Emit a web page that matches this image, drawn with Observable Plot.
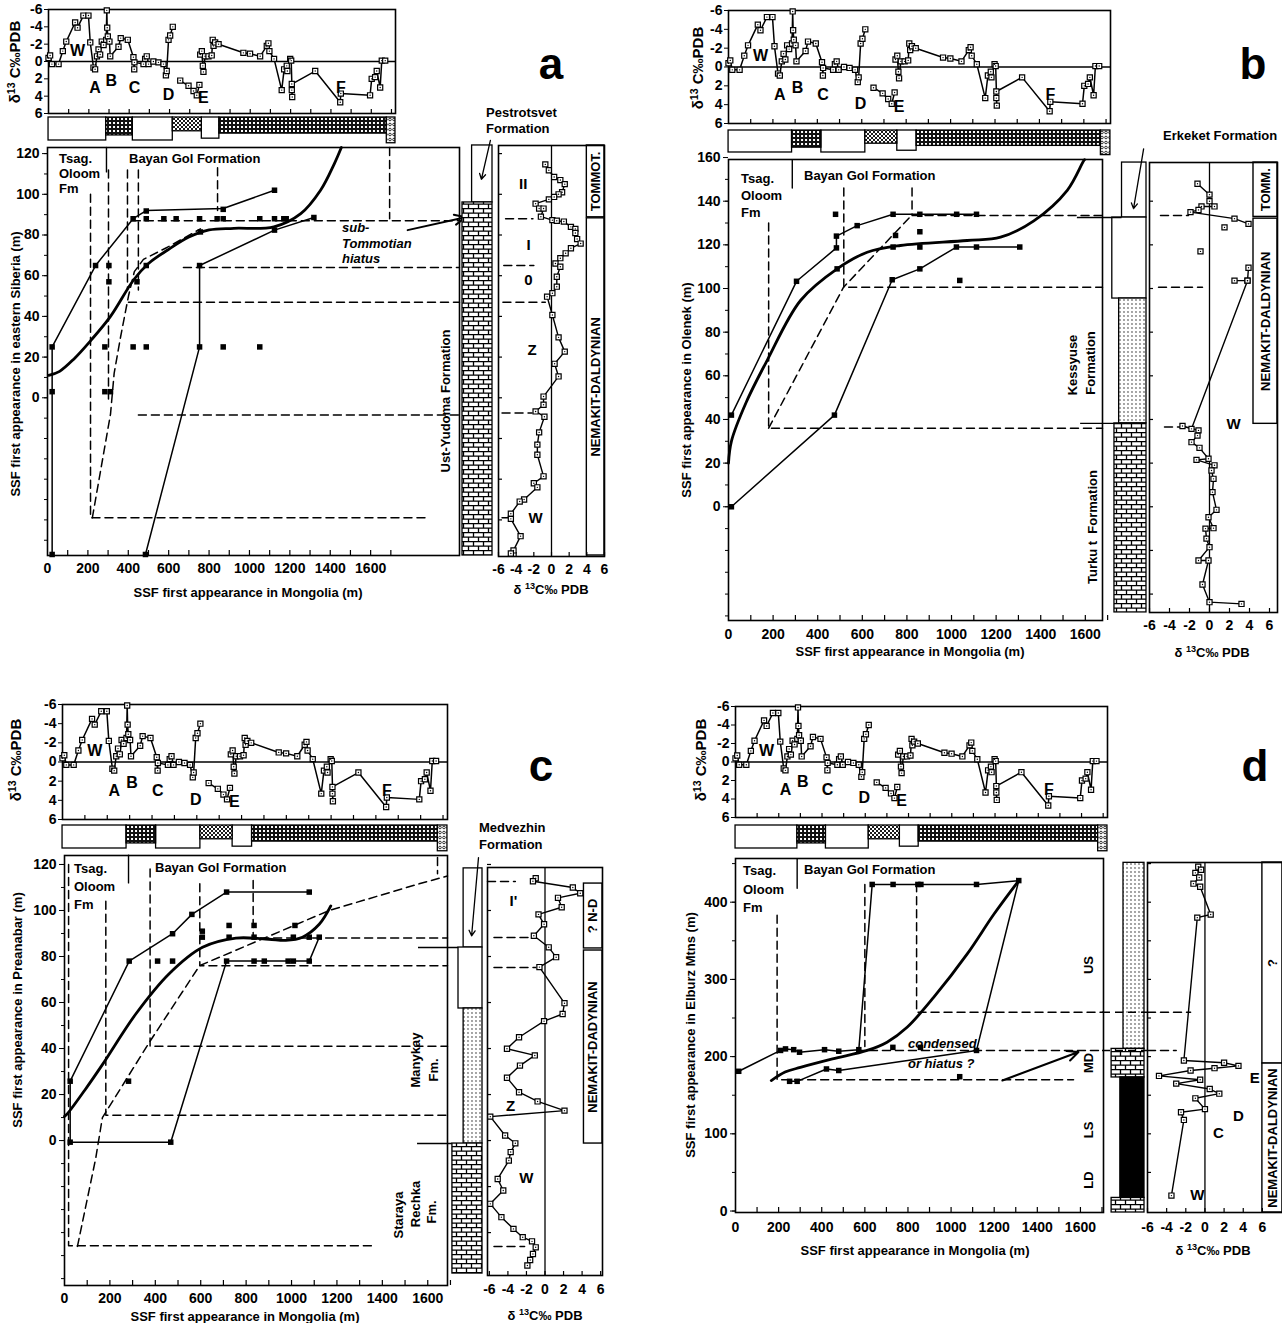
<!DOCTYPE html>
<html><head><meta charset="utf-8">
<script src="https://cdn.jsdelivr.net/npm/d3@7"></script>
<script src="https://cdn.jsdelivr.net/npm/@observablehq/plot@0.6"></script>
<style>
body{margin:0;background:#fff;}
#root{position:relative;width:1282px;height:1323px;overflow:hidden;background:#fff;font-family:'Liberation Sans',Arial,Helvetica,sans-serif;font-weight:bold;color:#000;}
.t{position:absolute;white-space:nowrap;line-height:1;}
.t sup{font-size:0.7em;vertical-align:0.45em;line-height:0;}
</style></head><body>
<svg width="0" height="0" style="position:absolute">
<defs>
<pattern id="grid" width="4" height="4" patternUnits="userSpaceOnUse"><rect width="4" height="4" fill="#111"/><rect x="1" y="1" width="2" height="2" fill="#fff"/></pattern>
<pattern id="hatch" width="4" height="4" patternUnits="userSpaceOnUse"><rect width="4" height="4" fill="#fff"/><path d="M0,0L4,4M4,0L0,4" stroke="#000" stroke-width="0.9"/></pattern>
<pattern id="congl" width="4" height="5" patternUnits="userSpaceOnUse"><rect width="4" height="5" fill="#fff"/><circle cx="2" cy="2.5" r="1.3" fill="none" stroke="#000" stroke-width="0.8"/></pattern>
<pattern id="dots" width="4" height="4" patternUnits="userSpaceOnUse"><rect width="4" height="4" fill="#fff"/><circle cx="2" cy="2" r="0.65" fill="#000"/></pattern>
<pattern id="brick" width="10" height="9" patternUnits="userSpaceOnUse"><rect width="10" height="9" fill="#fff"/><path d="M0,0.6H10M0,5.1H10M1.5,0.6V5.1M6.5,5.1V9" stroke="#000" stroke-width="1.3"/></pattern>
</defs></svg>
<div id="root"></div>
<script>
// ---------------- shared data: Mongolia (Bayan Gol) delta13C strip ----------------
const mongSegW = [[0,-0.4],[8,-0.7],[17,0.3],[50,0.3],[71,-1.2],[88,-2.3],[132,-4.5],[144,-3.9],[173,-5.3],[198,-5.3],[207,-2.2],[223,0.7],[231,0.9],[240,-0.6],[248,-1.4],[256,-0.8],[264,-2.3],[273,-1.9],[286,-2.5],[289,-5.9],[291,-3.9],[294,-2.9],[302,-2.3],[306,-0.6],[347,-1.7],[358,-2.7],[393,-2.5],[421,-0.5],[425,0.9],[426,0.1],[471,0.3],[479,-0.3],[487,-0.6],[496,0.3],[520,0.0],[545,0.1],[570,0.3],[582,1.6],[586,1.1],[595,-2.5],[603,-3.0],[616,-4.0]];
const mongSegE = [[653,2.2],[694,2.8],[719,3.4],[735,3.9],[748,2.7]];
const mongSegF = [[752,-0.8],[760,-1.2],[765,0.5],[768,1.2],[776,-0.6],[793,-0.6],[809,-0.7],[814,-2.5],[818,-1.8],[826,-2.2],[843,-2.0],[966,-1.0],[999,-0.9],[1049,-0.6],[1082,-1.8],[1090,-2.1],[1095,-1.2],[1118,-0.3],[1156,3.3],[1168,0.9],[1181,0.5],[1184,1.1],[1198,-0.3],[1203,-0.1],[1208,4.1],[1206,3.3],[1206,2.6],[1322,1.1],[1446,4.7],[1449,3.7],[1594,3.9],[1602,2.0],[1619,1.8],[1627,1.1],[1644,3.0],[1652,-0.1],[1669,-0.1]];
const mongLetterText = ["W","A","B","C","D","E","F"];
const mongLetterM = [144,231,311,426,595,768,1449];
const mongLetterD = [-1.2,3.0,2.2,3.0,3.9,4.2,3.0];
// lithology bar of the Mongolian section
const barFrom = [0,286,418,616,760,847,1677];
const barTo = [286,418,616,760,847,1677,1720];
const barDepth = [1.0,0.78,1.0,0.6,0.92,0.7,1.12];
const barRock = ["plain","grid","plain","hatch","plain","grid","congl"];

const deltaTicks = [-6,-4,-2,0,2,4,6];
const stripTicks = d3.range(100,1701,100);
const mainXLabels = d3.range(0,1601,200);
const mainXMinor = d3.range(100,1701,100);

// ---------------- panel a: eastern Siberia ----------------
const aUpper = [[23,-77],[23,25],[238,65],[424,88],[489,92],[870,93],[1124,102]];
const aLower = [[485,-77],[753,25],[753,65],[1124,82.4],[1319,88.6]];
const aCurve = [[6,11],[60,13],[130,19],[213,28],[312,40],[427,58],[500,66],[593,72.5],[700,79],[800,82.5],[923,83.3],[1121,84],[1254,90.5],[1352,102],[1420,115],[1455,123]];
const aSquares = [[424,88],[489,88],[576,88],[637,88],[753,88],[840,88],[870,88],[1051,88],[1124,88],[1170,88],[1182,88],[489,91.8],[870,92.6],[1124,102],[238,65],[304,65],[489,65],[753,65],[304,57],[443,57],[757,81.5],[1124,82.4],[1319,88.6],[23,25],[284,25],[424,25],[489,25],[753,25],[870,25],[1051,25],[23,3],[284,3],[312,3],[23,-77],[485,-77]];
const aDashed = [
  [[213,100],[213,-59],[1882,-59]],
  [[302,112],[302,-1]],
  [[222,-59],[312,-8],[330,12],[362,30],[401,50],[430,62],[475,68],[594,74],[757,83]],
  [[396,112],[396,53]],[[450,112],[450,53]],[[842,113],[842,92]],[[1694,123],[1694,88]],
  [[420,87],[2040,87]],[[673,64],[2040,64]],[[401,47],[2040,47]],[[450,-8.5],[2040,-8.5]]
];
const aSep = [[292,123],[292,111]];
const aDelta = [[-0.7,114.7],[-0.3,111.8],[0.3,108.5],[1.0,107],[1.5,105],[1.2,101],[0.8,100],[0.3,98.7],[-0.3,97.5],[-1.8,95.4],[-1.4,93],[-0.9,93],[-1.2,89],[0.1,87.3],[0.6,87],[1.4,86.6],[2.2,84],[2.7,83],[2.7,81],[2.9,78],[3.3,75.8],[2.2,73.5],[1.6,71],[1.0,68.6],[0.45,66],[1.0,64.4],[0.6,59.5],[0.6,54.6],[0.1,51.4],[-0.5,49.7],[0.1,40.7],[0.8,29.7],[1.5,22.7],[0.35,16.7],[0.8,10.5],[-0.9,0.6],[-0.9,-3.4],[-1.8,-6.7],[-0.8,-9.3],[-1.4,-17],[-1.6,-23],[-1.6,-28],[-0.9,-38.6],[-2.0,-42],[-1.6,-44],[-3.1,-50],[-3.6,-51],[-4.6,-57],[-4.6,-59.5],[-3.5,-68],[-4.3,-75],[-4.6,-76.5]];
const aDeltaDash = [[[-5.2,88],[-2.1,88]],[[-5.4,65],[-2,65]],[[-5.5,47],[-0.7,47]],[[-5.6,-7.5],[-2.2,-7.5]],[[-5.6,-59],[-4.8,-59]]];
const aZones = [["II",-3.2,105],["I",-2.6,75],["0",-2.6,58],["Z",-2.2,23.5],["W",-1.8,-59]];
const aStages = [[88.7,124,"TOMMOT."],[-77.5,88.2,"NEMAKIT-DALDYNIAN"]];
const aCol = [["plain",124,96,0.32],["brick",96,-77.5,0]];

// ---------------- panel b: Olenek ----------------
const bUpper = [[13,42],[305,103.3],[484,118.6],[484,124],[577,128.8],[738,134],[1112,134]];
const bLower = [[13,0],[475,42],[734,104],[858,109],[1022,119],[1112,119],[1306,119]];
const bCurve = [[0,20],[13,30],[80,48],[173,67],[323,94.5],[487,109],[622,116.6],[771,119.7],[1070,122],[1220,123.5],[1369,131],[1519,145],[1593,158.6],[1597,159]];
const bSquares = [[13,42],[13,0],[305,103.3],[484,118.6],[484,124],[577,128.8],[738,134],[858,134],[1023,134],[1112,134],[480,134],[475,42],[734,104],[858,109],[1022,119],[1112,119],[1306,119],[487,109],[738,119],[858,119],[749,124.3],[858,126],[1037,103.7]];
const bDashed = [
  [[180,130],[180,36],[1677,36]],
  [[180,36],[516,100.6],[816,133]],
  [[517,146],[517,100.6],[1677,100.6]],
  [[823,146],[823,134]],
  [[823,133.5],[1677,133.5]]
];
const bSep = [[286,159],[286,146]];
const bDeltaSegs = [
  [[-1.2,148],[0.0,143],[0.0,140],[0.5,137.6],[-0.8,137.6],[-1.1,136],[-1.9,135],[2.5,132],[3.9,129.6]],
  [[2.5,103.6],[3.8,103.6],[3.9,109.5]],
  [[3.8,103.6],[-1.8,35.7],[-2.7,37],[-1.1,35],[-1.2,32.6],[-1.8,29.6],[-1.0,27],[-0.1,22],[-1.3,21.5],[0.5,19],[0.2,16.6],[0.4,12.8],[0.3,6.7],[0.7,-1.4],[-0.1,-4.8],[0.4,-9.8],[-0.4,-10],[-0.3,-14.6],[0.0,-18.5],[-1.1,-24.6],[-0.1,-24.6],[-0.7,-35.6],[0.0,-43.7],[3.2,-44.5]]
];
const bDeltaLoose = [[1.5,128],[-0.9,117]];
const bDeltaDash = [[[-4.9,133.5],[-2.1,133.5]],[[-5.1,100.6],[-0.7,100.6]],[[-4.5,36.5],[-2.6,36.5]]];
const bZones = [["W",2.4,38]];
const bStages = [[132.8,157.7,"TOMM."],[38,132,"NEMAKIT-DALDYNIAN"]];
const bCol = [["plain",157.7,132.5,0.32],["plain",132.5,95.4,0.05],["dots",95.4,38.2,0.24],["brick",38.2,-48.4,0.11]];

// ---------------- panel c: Preanabar ----------------
const cUpper = [[25,25.8],[285,78],[476,89.9],[561,98.3],[714,108],[1078,108]];
const cLower = [[25,25.8],[25,-0.7],[468,-0.7],[714,78],[1078,78],[1122,88.4]];
const cCurve = [[0,10.5],[13,11.7],[90,22],[167,33],[314,55],[461,72.5],[608,84],[755,88],[900,87.5],[975,87],[1048,88.4],[1122,94],[1173,102]];
const cSquares = [[25,25.8],[25,-0.7],[468,-0.7],[285,78],[282,25.8],[410,78],[476,78],[476,89.9],[561,98.3],[714,108],[1078,108],[714,78],[835,78],[880,78],[985,78],[1008,78],[1078,78],[607,88.4],[607,91],[725,88.4],[835,88.4],[1008,88.4],[1078,88.4],[1122,88.4],[725,93.5],[835,93.5],[1015,93.5]];
const cDashed = [
  [[18,120],[18,-45.7],[1370,-45.7]],
  [[182,104],[182,11],[1687,11]],
  [[377,118],[377,41],[1687,41]],
  [[596,111.6],[596,76],[1687,76]],
  [[831,113],[831,88],[1687,88]],
  [[1643,123],[1643,116]],
  [[57,-46],[137,-8],[167,10],[379,43.5],[595,76],[1166,100],[1562,111.6],[1687,115]]
];
const cSep = [[282,124],[282,112]];
const cDelta = [[-1.0,114],[-1.3,112.7],[3.0,110],[3.8,107.5],[1.4,105.5],[1.8,101.4],[-0.7,98.3],[-0.1,94],[-1.2,89],[0.4,84],[1.2,79.7],[-0.6,75.4],[2.1,59.7],[1.9,55],[-0.1,51.9],[-2.8,44.9],[-4.1,39.9],[-1.1,37],[-2.7,32.6],[-4.1,27.3],[-2.8,21],[-0.8,17],[2.1,13],[-5.9,10.4],[-4.3,2.2],[-3.2,-1.2],[-3.7,-5],[-3.9,-8.7],[-5.1,-16.7],[-4.5,-21.7],[-5.9,-27.5],[-4.7,-33.3],[-3.4,-38.4],[-2.4,-42],[-1.4,-43.8],[-1.0,-46.4],[-1.3,-49.3],[-1.6,-51.9],[-1.9,-54.3]];
const cDeltaDash = [[[-6.2,112.6],[-3.2,112.6]],[[-5.5,88.3],[-1.5,88.3]],[[-5.5,75.2],[-1,75.2]],[[-5.5,-46],[-2.2,-46]]];
const cZones = [["I'",-3.4,104],["Z",-3.7,15],["W",-2,-16.5]];
const cStages = [[83.5,111.7,"? N-D"],[-1.3,82.6,"NEMAKIT-DADYNIAN"]];
const cCol = [["plain",118.3,83.9,0.41],["plain",83.9,57.4,0.25],["dots",57.4,-1.3,0.41],["brick",-1.3,-57.8,0.06]];

// ---------------- panel d: Elburz Mountains ----------------
const dUpper = [[15,181],[209,208],[232,210],[270,209],[297,205.7],[413,209],[479,207],[572,209],[634,423],[731,423],[846,423],[1118,423],[1314,428],[1118,208],[479,182],[422,184],[286,168],[251,168]];
const dCurve = [[166,169],[230,180],[301,186],[450,197],[611,208],[703,218.7],[796,238],[920,277],[1075,333],[1200,385],[1314,428]];
const dSquares = [[15,181],[209,208],[232,210],[270,209],[297,205.7],[413,209],[479,207],[572,209],[634,423],[731,423],[846,423],[860,423],[1118,423],[1314,428],[1118,208],[479,182],[422,184],[251,168],[286,168],[730,212],[858,212],[1040,174]];
const dDashed = [
  [[193,383],[193,170],[1568,170]],
  [[600,423],[600,213]],
  [[840,424],[840,257.5],[1707,257.5]],
  [[561,208],[1707,208]]
];
const dSep = [[286,456],[286,418]];
const dDelta = [[-0.7,446],[-0.4,442],[-1.0,438],[-0.6,432],[-1.2,424],[-0.5,420],[0.6,384],[-0.8,380],[-2.2,195],[2.0,192],[3.5,188],[1.0,185],[-1.5,182],[-4.8,175],[-0.5,170],[-3.0,165],[0.5,158],[1.5,152],[-1.0,146],[0.0,132],[-2.5,128],[-2.2,118],[-3.5,20]];
const dDeltaDash = [[[-6,257.5],[-1.5,257.5]],[[-6,208],[-3,208]]];
const dZones = [["E",5.2,172],["D",3.5,123],["C",1.4,101],["W",-0.8,20]];
const dStages = [[191,451.4,"?"],[-1.9,191,"NEMAKIT-DALDYNIAN"]];
const dCol = [["dots",451,210,0.4],["brick",210,173,0.06],["black",173,17,0.31],["brick",17,-1.9,0.06]];

// ---------------- drawing helpers ----------------
const FONT = "'Liberation Sans', Arial, Helvetica, sans-serif";
const root = document.getElementById("root");
const rockFill = {plain:"#fff", grid:"url(#grid)", hatch:"url(#hatch)", congl:"url(#congl)", dots:"url(#dots)", brick:"url(#brick)", black:"#000"};
const X = d => d[0], Y = d => d[1];

function plotAt(frame, spec) {
  const [x0,y0,x1,y1] = frame;
  const svg = Plot.plot({
    width: x1 - x0, height: y1 - y0,
    marginLeft: 0, marginRight: 0, marginTop: 0, marginBottom: 0,
    style: {background: "none", fontFamily: FONT, fontSize: "14px", fontWeight: "bold", color: "black", overflow: "visible"},
    ...spec,
    x: {...spec.x, axis: null},
    y: {...spec.y, axis: null}
  });
  svg.style.position = "absolute";
  svg.style.left = x0 + "px";
  svg.style.top = y0 + "px";
  svg.style.maxWidth = "none";
  root.appendChild(svg);
  return svg;
}
function T(html, x, y, o = {}) {
  const d = document.createElement("div");
  d.className = "t"; d.innerHTML = html;
  d.style.fontSize = (o.size || 13) + "px";
  if (o.italic) d.style.fontStyle = "italic";
  const ax = o.anchor === "start" ? "0" : o.anchor === "end" ? "-100%" : "-50%";
  d.style.left = x + "px"; d.style.top = y + "px";
  d.style.transform = `translate(${ax}, -50%)` + (o.rotate ? ` rotate(${o.rotate}deg)` : "");
  root.appendChild(d);
}
const openSq = (data) => [
  Plot.dot(data, {x: X, y: Y, symbol: "square", r: 2.9, fill: "white", stroke: "black", strokeWidth: 1.2}),
  Plot.dot(data, {x: X, y: Y, r: 0.7, fill: "black"})
];
const rocksMarks = (rows) => Object.keys(rockFill).map(k =>
  Plot.rect(rows.filter(r => r[0] === k), {x1: r => r[3], x2: 1, y1: r => r[2], y2: r => r[1], fill: rockFill[k], stroke: "black", strokeWidth: 1.3}));

function drawPanel(P) {
  const [mx0,my0,mx1,my1] = P.main;
  const v = py => P.yDom[1] + (py - my0) * (P.yDom[0] - P.yDom[1]) / (my1 - my0);
  // --- top strip: delta13C of Mongolian section
  const [sx0,sy0,sx1,sy1] = P.strip;
  plotAt(P.strip, {
    x: {domain: [0,1720]}, y: {domain: [6,-6]},
    marks: [
      Plot.frame({strokeWidth: 1.6}),
      Plot.ruleY([0], {strokeWidth: 1.7}),
      Plot.tickX(stripTicks, {x: d => d, insetTop: (sy1 - sy0) - 4, strokeWidth: 1.2}),
      Plot.axisY({ticks: deltaTicks, tickFormat: d => String(d), tickSize: 4, tickPadding: 2, label: null, fontSize: 14}),
      ...[mongSegW, mongSegE, mongSegF].map(s => Plot.line(s, {x: X, y: Y, strokeWidth: 1.5})),
      ...openSq([...mongSegW, ...mongSegE, ...mongSegF]),
      Plot.text(mongLetterText, {x: (d,i) => mongLetterM[i], y: (d,i) => mongLetterD[i], text: d => d, fontSize: 16, fontWeight: "bold"})
    ]
  });
  // --- lithology bar of Mongolian section
  const idx = barFrom.map((d,i) => i);
  plotAt([sx0, P.bar[0], sx1, P.bar[0] + 1.2 * P.bar[1]], {
    x: {domain: [0,1720]}, y: {domain: [1.2,0]},
    marks: Object.keys(rockFill).map(k => Plot.rect(idx.filter(i => barRock[i] === k),
      {x1: i => barFrom[i], x2: i => barTo[i], y1: 0, y2: i => barDepth[i], fill: rockFill[k], stroke: "black", strokeWidth: 1.3}))
  });
  // --- main correlation plot
  plotAt(P.main, {
    x: {domain: P.xDom}, y: {domain: P.yDom},
    marks: [
      Plot.frame({strokeWidth: 1.6}),
      Plot.axisX({ticks: mainXLabels, tickFormat: d => String(d), tickSize: 0, tickPadding: P.xPad, label: null, fontSize: 14}),
      Plot.tickX(mainXMinor, {x: d => d, insetTop: (my1 - my0) - 5, strokeWidth: 1.2}),
      Plot.axisY({ticks: P.yLab, tickFormat: d => String(d), tickSize: 5, tickPadding: 3, label: null, fontSize: 14}),
      Plot.axisY({ticks: P.yMinor, tickFormat: () => "", tickSize: 3, label: null}),
      ...P.dashed.map(l => Plot.line(l, {x: X, y: Y, strokeDasharray: "8,5", strokeWidth: 1.5})),
      Plot.line(P.sep, {x: X, y: Y, strokeWidth: 1.4}),
      ...P.solid.map(l => Plot.line(l, {x: X, y: Y, strokeWidth: 1.5})),
      Plot.line(P.curve, {x: X, y: Y, curve: "catmull-rom", strokeWidth: 2.8}),
      Plot.dot(P.squares, {x: X, y: Y, symbol: "square", r: 3.1, fill: "black"}),
      ...(P.mainExtra || [])
    ]
  });
  // --- lithology column of the local section
  const [cx0,cy0,cx1,cy1] = P.colFrame;
  plotAt(P.colFrame, {
    x: {domain: [0,1]}, y: {domain: [v(cy1), v(cy0)]},
    marks: [...rocksMarks(P.col), ...(P.colExtra || [])]
  });
  // --- local delta13C profile with stage boxes
  const [dx0,dy0,dx1,dy1] = P.dFrame;
  plotAt(P.dFrame, {
    x: {domain: P.dX}, y: {domain: [v(dy1), v(dy0)]},
    marks: [
      Plot.rect(P.stages, {x1: P.stageX, x2: P.dX[1], y1: s => s[0], y2: s => s[1], fill: "white", stroke: "black", strokeWidth: 1.4}),
      Plot.text(P.stages, {x: (P.stageX + P.dX[1]) / 2, y: s => (s[0] + s[1]) / 2, text: s => s[2], rotate: -90, fontSize: 13, fontWeight: "bold"}),
      Plot.frame({strokeWidth: 1.6}),
      Plot.ruleX([0], {strokeWidth: 1.3}),
      Plot.axisX({ticks: deltaTicks, tickFormat: d => String(d), tickSize: 0, tickPadding: P.dPad, label: null, fontSize: 14}),
      Plot.tickX(deltaTicks, {x: d => d, insetTop: (dy1 - dy0) - 4, strokeWidth: 1.2}),
      Plot.tickY(P.dLeft, {y: d => d, insetRight: (dx1 - dx0) - 4, strokeWidth: 1.2}),
      ...P.dDash.map(l => Plot.line(l, {x: X, y: Y, strokeDasharray: "8,5", strokeWidth: 1.5})),
      ...P.dSegs.map(s => Plot.line(s, {x: X, y: Y, strokeWidth: 1.4})),
      ...openSq([...P.dSegs.flat(), ...(P.dLoose || [])]),
      Plot.text(P.zones, {x: z => z[1], y: z => z[2], text: z => z[0], fontSize: 15, fontWeight: "bold"})
    ]
  });
  // --- free labels
  P.labels.forEach(l => T(...l));
}

const arrowOpts = {strokeWidth: 2, headLength: 9, headAngle: 50};

drawPanel({
  strip: [48,9,395,113], bar: [117,23],
  main: [47,147,459,555], xDom: [0,2040], yDom: [-77.5,123], xPad: 8,
  yLab: [0,20,40,60,80,100,120], yMinor: d3.range(-70,121,10),
  dashed: aDashed, solid: [aUpper, aLower], sep: aSep, curve: aCurve, squares: aSquares,
  mainExtra: [Plot.arrow([0], {x1: 1783, y1: 82.4, x2: 2070, y2: 88.7, ...arrowOpts})],
  colFrame: [462,145,492,556], col: aCol,
  colExtra: [Plot.arrow([0], {x1: 0.93, y1: 126.5, x2: 0.63, y2: 107.4, strokeWidth: 1.3, headLength: 7})],
  dFrame: [498,145,604,556], dX: [-6,6], stageX: 4, dPad: 8, dLeft: d3.range(-60,121,20),
  stages: aStages, dDash: aDeltaDash, dSegs: [aDelta], zones: aZones,
  labels: [
    ["δ<sup>13</sup> C‰PDB", 14, 62, {rotate: -90, size: 15}],
    ["SSF first appearance in eastern Siberia (m)", 15, 364, {rotate: -90}],
    ["SSF first appearance in Mongolia (m)", 248, 592],
    ["δ <sup>13</sup>C‰ PDB", 551, 589],
    ["Tsag.", 59, 158, {anchor: "start"}], ["Oloom", 59, 173, {anchor: "start"}], ["Fm", 59, 188, {anchor: "start"}],
    ["Bayan Gol Formation", 129, 158, {anchor: "start"}],
    ["Pestrotsvet", 486, 112, {anchor: "start"}], ["Formation", 486, 128, {anchor: "start"}],
    ["Ust-Yudoma Formation", 445, 401, {rotate: -90}],
    ["sub-", 342, 227, {anchor: "start", italic: true}], ["Tommotian", 342, 243, {anchor: "start", italic: true}], ["hiatus", 342, 258, {anchor: "start", italic: true}],
    ["a", 551, 64, {size: 44}]
  ]
});

drawPanel({
  strip: [728,10,1110,123], bar: [130,22],
  main: [728,159,1102,620], xDom: [0,1677], yDom: [-52.1,159.1], xPad: 9,
  yLab: [0,20,40,60,80,100,120,140,160], yMinor: d3.range(-50,160,10),
  dashed: bDashed, solid: [bUpper, bLower], sep: bSep, curve: bCurve, squares: bSquares,
  colFrame: [1110,162,1146,612], col: bCol,
  colExtra: [
    Plot.ruleY([132.5], {x1: -0.92, x2: 0.32, strokeWidth: 1.4}),
    Plot.ruleY([38.2], {x1: -0.83, x2: 0.11, strokeWidth: 1.4}),
    Plot.arrow([0], {x1: 0.92, y1: 164, x2: 0.64, y2: 136.6, strokeWidth: 1.3, headLength: 7})
  ],
  dFrame: [1149,162,1277,612], dX: [-6,6.8], stageX: 4.4, dPad: 8, dLeft: d3.range(-40,160,20),
  stages: bStages, dDash: bDeltaDash, dSegs: bDeltaSegs, dLoose: bDeltaLoose, zones: bZones,
  labels: [
    ["δ<sup>13</sup> C‰PDB", 697, 68, {rotate: -90, size: 15}],
    ["SSF first appearance in Olenek (m)", 686, 390, {rotate: -90}],
    ["SSF first appearance in Mongolia (m)", 910, 651],
    ["δ <sup>13</sup>C‰ PDB", 1212, 652],
    ["Tsag.", 741, 178, {anchor: "start"}], ["Oloom", 741, 195, {anchor: "start"}], ["Fm", 741, 212, {anchor: "start"}],
    ["Bayan Gol Formation", 804, 175, {anchor: "start"}],
    ["Erkeket Formation", 1163, 135, {anchor: "start"}],
    ["Kessyuse", 1072, 365, {rotate: -90}], ["Formation", 1090, 363, {rotate: -90}],
    ["Turku t&nbsp;&nbsp;Formation", 1092, 527, {rotate: -90}],
    ["b", 1253, 64, {size: 44}]
  ]
});

drawPanel({
  strip: [62,704,447,819], bar: [825,23],
  main: [64,855,447,1285], xDom: [0,1687], yDom: [-63,123.9], xPad: 8,
  yLab: [0,20,40,60,80,100,120], yMinor: d3.range(-60,121,10),
  dashed: cDashed, solid: [cUpper, cLower], sep: cSep, curve: cCurve, squares: cSquares,
  colFrame: [450,867,482,1273], col: cCol,
  colExtra: [
    Plot.ruleY([83.9], {x1: -1.0, x2: 0.25, strokeWidth: 1.4}),
    Plot.ruleY([-1.3], {x1: -1.03, x2: 0.06, strokeWidth: 1.4}),
    Plot.arrow([0], {x1: 0.875, y1: 123, x2: 0.66, y2: 89, strokeWidth: 1.3, headLength: 7})
  ],
  dFrame: [487,867,602,1275], dX: [-6.2,6.2], stageX: 4.2, dPad: 9, dLeft: d3.range(-40,121,20),
  stages: cStages, dDash: cDeltaDash, dSegs: [cDelta], zones: cZones,
  labels: [
    ["δ<sup>13</sup> C‰PDB", 15, 760, {rotate: -90, size: 15}],
    ["SSF first appearance in Preanabar (m)", 17, 1010, {rotate: -90}],
    ["SSF first appearance in Mongolia (m)", 245, 1316],
    ["δ <sup>13</sup>C‰ PDB", 545, 1315],
    ["Tsag.", 74, 868, {anchor: "start"}], ["Oloom", 74, 886, {anchor: "start"}], ["Fm", 74, 904, {anchor: "start"}],
    ["Bayan Gol Formation", 155, 867, {anchor: "start"}],
    ["Medvezhin", 479, 827, {anchor: "start"}], ["Formation", 479, 844, {anchor: "start"}],
    ["Manykay", 415, 1060, {rotate: -90}], ["Fm.", 433, 1070, {rotate: -90}],
    ["Staraya", 398, 1215, {rotate: -90}], ["Rechka", 415, 1204, {rotate: -90}], ["Fm.", 431, 1212, {rotate: -90}],
    ["c", 541, 766, {size: 44}]
  ]
});

drawPanel({
  strip: [735,706,1107,817], bar: [825,23],
  main: [735,858,1103,1212], xDom: [0,1707], yDom: [-1.9,456.6], xPad: 10,
  yLab: [0,100,200,300,400], yMinor: d3.range(0,451,50),
  dashed: dDashed, solid: [dUpper], sep: dSep, curve: dCurve, squares: dSquares,
  mainExtra: [Plot.arrow([0], {x1: 1238, y1: 169, x2: 1591, y2: 206, ...arrowOpts})],
  colFrame: [1109,862,1144,1212], col: dCol,
  colExtra: [
    Plot.ruleY([257.5], {x1: -0.2, x2: 1.1, strokeDasharray: "8,5", strokeWidth: 1.5}),
    Plot.ruleY([208], {x1: -0.2, x2: 1.1, strokeDasharray: "8,5", strokeWidth: 1.5})
  ],
  dFrame: [1147,862,1282,1212], dX: [-6,8.1], stageX: 6, dPad: 10, dLeft: d3.range(50,451,50),
  stages: dStages, dDash: dDeltaDash, dSegs: [dDelta], zones: dZones,
  labels: [
    ["δ<sup>13</sup> C‰PDB", 700, 760, {rotate: -90, size: 15}],
    ["SSF first appearance in Elburz Mtns (m)", 690, 1035, {rotate: -90}],
    ["SSF first appearance in Mongolia (m)", 915, 1250],
    ["δ <sup>13</sup>C‰ PDB", 1213, 1250],
    ["Tsag.", 743, 870, {anchor: "start"}], ["Oloom", 743, 889, {anchor: "start"}], ["Fm", 743, 907, {anchor: "start"}],
    ["Bayan Gol Formation", 804, 869, {anchor: "start"}],
    ["US", 1088, 965, {rotate: -90}], ["MD", 1088, 1063, {rotate: -90}], ["LS", 1088, 1130, {rotate: -90}], ["LD", 1088, 1180, {rotate: -90}],
    ["condensed", 908, 1043, {anchor: "start", italic: true}], ["or hiatus ?", 908, 1063, {anchor: "start", italic: true}],
    ["d", 1255, 766, {size: 44}]
  ]
});
</script>
</body></html>
